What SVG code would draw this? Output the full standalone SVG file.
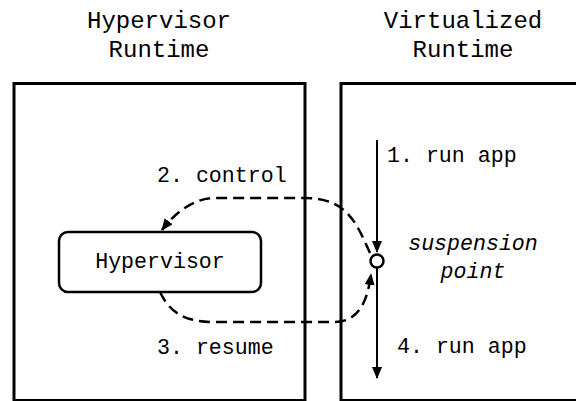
<svg xmlns="http://www.w3.org/2000/svg" width="576" height="401" viewBox="0 0 576 401">
<style>
text{font-family:"Liberation Mono","Courier New",monospace;fill:#000}
.title{font-size:24px;text-anchor:middle}
.lbl{font-size:21.6px}
.box{fill:none;stroke:#000;stroke-width:3}
.dash{fill:none;stroke:#000;stroke-width:2.5;stroke-dasharray:11 6}
.solid{fill:none;stroke:#000;stroke-width:2}
</style>
<defs>
<marker id="ah" viewBox="0 0 12 10" refX="11" refY="5" markerWidth="12" markerHeight="10" markerUnits="userSpaceOnUse" orient="auto">
<path d="M0,0 L12,5 L0,10 Z" fill="#000"/>
</marker>
</defs>
<g id="hypervisor-runtime">
<rect class="box" x="14" y="83.5" width="291" height="317"/>
<text class="title" x="159" y="28">Hypervisor</text>
<text class="title" x="159" y="57">Runtime</text>
</g>
<g id="virtualized-runtime">
<rect class="box" x="341" y="83.5" width="260" height="317"/>
<text class="title" x="463" y="28">Virtualized</text>
<text class="title" x="463" y="57">Runtime</text>
</g>
<g id="hypervisor">
<rect x="59" y="232" width="202" height="60" rx="9" fill="#fff" stroke="#000" stroke-width="2.5"/>
<text class="lbl" x="160" y="268" text-anchor="middle">Hypervisor</text>
</g>
<g id="suspension-point">
<circle cx="377" cy="261" r="6.5" fill="#fff" stroke="#000" stroke-width="2.5"/>
<text class="lbl" x="473" y="250" text-anchor="middle" font-style="italic">suspension</text>
<text class="lbl" x="473" y="278" text-anchor="middle" font-style="italic">point</text>
</g>
<g id="connectors">
<line class="solid" x1="377" y1="140" x2="377" y2="252" marker-end="url(#ah)"/>
<line class="solid" x1="377" y1="268" x2="377" y2="378" marker-end="url(#ah)"/>
<path class="dash" d="M370,253 C358,228 350,198 305,198 L215,198 C193,198 175,213 162,230" marker-end="url(#ah)"/>
<path class="dash" d="M160,292 C170,313 185,322 215,322 L335,322 C360,322 368,298 371,274" marker-end="url(#ah)"/>
<text class="lbl" x="157" y="182">2. control</text>
<text class="lbl" x="157" y="354">3. resume</text>
<text class="lbl" x="387" y="162">1. run app</text>
<text class="lbl" x="397" y="353">4. run app</text>
</g>
</svg>
